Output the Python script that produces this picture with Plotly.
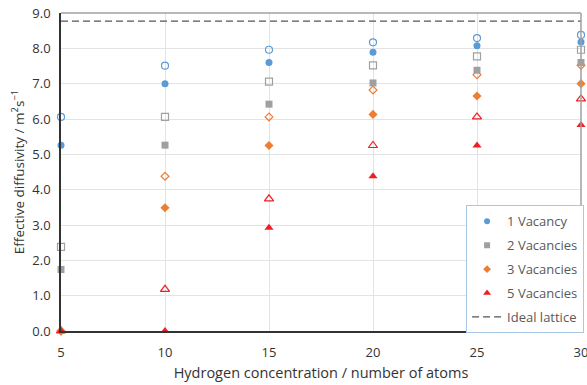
import plotly.graph_objects as go

x_atoms = [5, 10, 15, 20, 25, 30]

v1_filled = [5.26, 7.00, 7.60, 7.89, 8.07, 8.18]
v1_open = [6.06, 7.51, 7.96, 8.17, 8.29, 8.38]
v2_filled = [1.74, 5.26, 6.42, 7.02, 7.38, 7.60]
v2_open = [2.38, 6.06, 7.06, 7.52, 7.77, 7.96]
v3_filled = [0.0, 3.49, 5.25, 6.13, 6.65, 7.00]
v3_open = [0.0, 4.38, 6.06, 6.82, 7.25, 7.52]
v5_filled = [0.0, 0.0, 2.92, 4.38, 5.25, 5.83]
v5_open = [0.0, 1.18, 3.74, 5.25, 6.06, 6.57]
ideal_lattice = 8.77

names = ["1 Vacancy", "2 Vacancies", "3 Vacancies", "5 Vacancies"]
colors = ["#5b9bd5", "#a0a0a0", "#ed7d31", "#f01e23"]
symbols = ["circle", "square", "diamond", "triangle-up"]
sizes = [7, 7, 6, 8]
legend_sizes = [6, 6, 6, 7]
filled = [v1_filled, v2_filled, v3_filled, v5_filled]
opened = [v1_open, v2_open, v3_open, v5_open]

fig = go.Figure()
font_family = "Open Sans, Noto Sans, sans-serif"

for i in range(4):
    fig.add_trace(go.Scatter(
        x=x_atoms, y=opened[i], mode="markers", showlegend=False,
        marker=dict(symbol=symbols[i] + "-open", color=colors[i], size=sizes[i],
                    line=dict(width=1.2, color=colors[i])),
        cliponaxis=False))

for i in range(4):
    fig.add_trace(go.Scatter(
        x=x_atoms, y=filled[i], mode="markers", showlegend=False,
        marker=dict(symbol=symbols[i], color=colors[i], size=sizes[i] + (1 if i == 2 else 0),
                    line=dict(width=0)),
        cliponaxis=False))

for i in range(4):
    # legend-only entry with a smaller swatch, as in the reference
    fig.add_trace(go.Scatter(
        x=[None], y=[None], mode="markers", name=names[i],
        marker=dict(symbol=symbols[i], color=colors[i], size=legend_sizes[i],
                    line=dict(width=0)),
        legendgroup=f"g{i}"))

fig.add_trace(go.Scatter(
    x=[x_atoms[0], x_atoms[-1]], y=[ideal_lattice, ideal_lattice], mode="lines",
    name="Ideal lattice", line=dict(color="#555555", width=1.2, dash="7px,4px"),
    legendgroup="g5"))

# top and right frame lines (gray)
fig.add_shape(type="line", xref="paper", yref="paper", x0=0, x1=1, y0=1, y1=1,
              line=dict(color="#a0a0a0", width=1.5))
fig.add_shape(type="line", xref="paper", yref="paper", x0=1, x1=1, y0=0, y1=1,
              line=dict(color="#a0a0a0", width=1.5))

fig.update_layout(
    width=587, height=385,
    margin=dict(l=61, r=6, t=13, b=54, autoexpand=False),
    paper_bgcolor="white", plot_bgcolor="white",
    font=dict(family=font_family, size=13, color="#333333"),
    showlegend=True,
    legend=dict(
        x=0.779, y=0.395, xanchor="left", yanchor="top",
        bgcolor="white", bordercolor="#a9c8e6", borderwidth=1,
        font=dict(family=font_family, size=13, color="#595959"),
        traceorder="grouped", tracegroupgap=4,
        itemwidth=30,
    ),
    xaxis=dict(
        range=[5, 30], tickmode="array", tickvals=x_atoms,
        showgrid=True, gridcolor="#e3e3e3", gridwidth=1.2,
        showline=True, linecolor="#333333", linewidth=1.5,
        ticks="outside", ticklen=9, tickcolor="rgba(0,0,0,0)",
        zeroline=False, automargin=False, ticklabeloverflow="allow",
        title=dict(text="Hydrogen concentration / number of atoms",
                   font=dict(size=14.5, color="#333333"), standoff=8),
        tickfont=dict(size=13, color="#333333"),
    ),
    yaxis=dict(
        range=[0, 9], dtick=1, tickformat=".1f",
        showgrid=True, gridcolor="#e3e3e3", gridwidth=1.2,
        showline=True, linecolor="#333333", linewidth=1.5,
        ticks="outside", ticklen=6, tickcolor="rgba(0,0,0,0)",
        zeroline=False, automargin=False,
        title=dict(text="Effective diffusivity / m<sup>2</sup>s<sup>\u22121</sup>",
                   font=dict(size=13.5, color="#333333"), standoff=5),
        tickfont=dict(size=13, color="#333333"),
    ),
)

fig.write_html("out.html")
